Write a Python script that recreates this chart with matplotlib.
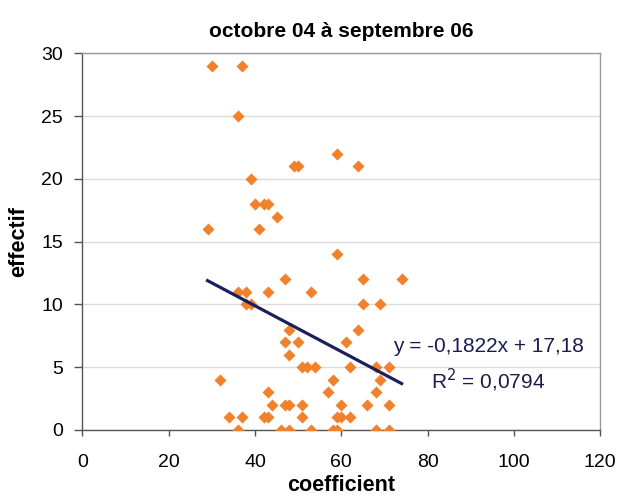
import matplotlib
matplotlib.use("Agg")
import matplotlib.pyplot as plt
import numpy as np

plt.rcParams["font.family"] = ["Liberation Sans", "DejaVu Sans"]

# coefficient (x) / effectif (y)
coef = [30, 37, 36, 59, 49, 50, 64, 39, 40, 42, 43, 45, 29, 41, 59, 47, 65, 74,
        36, 38, 43, 53, 38, 39, 65, 69, 48, 64, 47, 50, 61, 48, 51, 52, 54, 62,
        68, 71, 32, 58, 69, 43, 57, 68, 44, 47, 48, 51, 60, 66, 71, 34, 37, 42,
        43, 51, 59, 60, 62, 36, 46, 48, 53, 58, 59, 68, 71]
effectif = [29, 29, 25, 22, 21, 21, 21, 20, 18, 18, 18, 17, 16, 16, 14, 12, 12, 12,
            11, 11, 11, 11, 10, 10, 10, 10, 8, 8, 7, 7, 7, 6, 5, 5, 5, 5,
            5, 5, 4, 4, 4, 3, 3, 3, 2, 2, 2, 2, 2, 2, 2, 1, 1, 1,
            1, 1, 1, 1, 1, 0, 0, 0, 0, 0, 0, 0, 0]

# linear trend shown on the chart
slope = -0.1822
intercept = 17.18
r2 = 0.0794

title = "octobre 04 à septembre 06"
xticks = [0, 20, 40, 60, 80, 100, 120]
yticks = [0, 5, 10, 15, 20, 25, 30]

fig = plt.figure(figsize=(6.23, 5.0), dpi=100)
ax = fig.add_axes([0.1324, 0.14, 0.9631 - 0.1324, 0.8934 - 0.14])

ax.scatter(coef, effectif, marker="D", s=38, color="#F0822D", linewidths=0, zorder=3)

xs = np.array([min(coef), max(coef)])
ax.plot(xs, slope * xs + intercept, color="#1C1F5E", linewidth=2.3, zorder=4)

eq = f"y = {slope:.4f}x + {intercept:.2f}".replace(".", ",")
ax.text(94.1, 6.63, eq, ha="center", va="center", fontsize=15, color="#1A1C50", zorder=5)
ax.text(94.1, 3.95, f"R$^2$ = {r2:.4f}".replace(".", ","), ha="center", va="center",
        fontsize=15, color="#1A1C50", zorder=5)

ax.set_xlim(0, 120)
ax.set_ylim(0, 30)
ax.set_xticks(xticks)
ax.set_yticks(yticks)
ax.yaxis.grid(True, color="#dcdcdc", linewidth=1.0)
ax.set_axisbelow(True)

for side in ["left", "bottom"]:
    ax.spines[side].set_color("#555555")
    ax.spines[side].set_linewidth(1.0)
for side in ["top", "right"]:
    ax.spines[side].set_color("#9a9a9a")
    ax.spines[side].set_linewidth(1.0)

ax.tick_params(axis="x", direction="out", length=4, width=1, color="#555555",
               pad=13, labelsize=14)
ax.tick_params(axis="y", direction="out", length=6, width=1, color="#555555",
               pad=8, labelsize=14)

ax.set_title(title, fontsize=15, fontweight="bold", pad=12)
ax.set_xlabel("coefficient", fontsize=15.5, fontweight="bold", labelpad=3)
ax.set_ylabel("effectif", fontsize=15.5, fontweight="bold", labelpad=9)

fig.savefig("out.png", dpi=100)
